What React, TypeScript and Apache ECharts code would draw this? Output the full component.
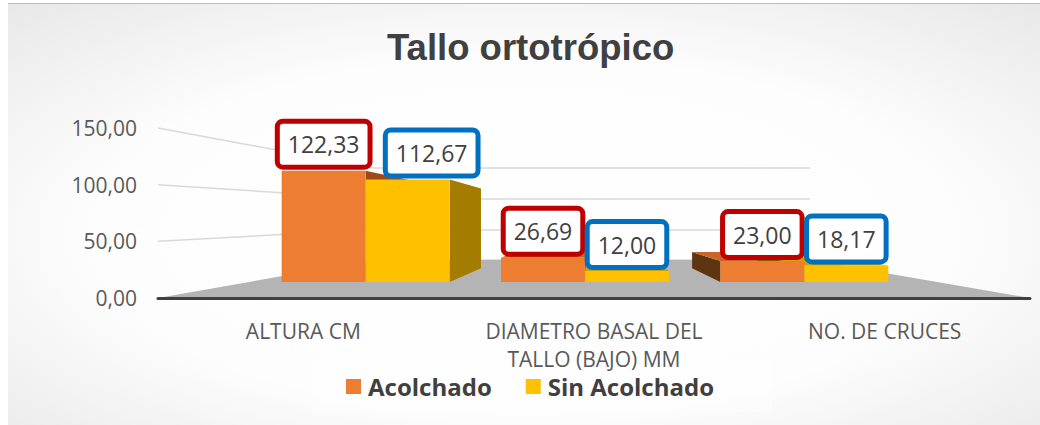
import React, { useEffect, useRef } from "react";
import * as echarts from "echarts";

const categories = ["ALTURA CM", "DIAMETRO BASAL DEL\nTALLO (BAJO) MM", "NO. DE CRUCES"];
const acolchado = [122.33, 26.69, 23.0];
const sinAcolchado = [112.67, 12.0, 18.17];
const seriesNames = ["Acolchado", "Sin Acolchado"];
const yTicks = [0, 50, 100, 150];

const fmt = (v: number) => v.toFixed(2).replace(".", ",");

// layout (page coords -> chart coords)
const OX = 8, OY = 4, W = 1032, H = 421;
const px = (x: number) => x - OX;
const py = (y: number) => y - OY;
const BAR_W = 84;
const VP = [px(592), py(220)];
const K = 0.78;

const FRONT = ["#ED7D31", "#FFC000"];
const SIDE_R = ["#9C4A17", "#A47C00"];
const SIDE_L = ["#5F3411", "#7F6000"];
const TOP = ["#C9652A", "#D4A000"];
const BORDER = ["#C00000", "#0070C0"];

const G0 = { left: px(158), right: W - px(1030), top: py(128), bottom: H - py(298) };
const G1 = { left: px(256), right: W - (px(256) + 658), top: py(145.5), bottom: H - py(282) };
const G2 = { left: px(374), right: W - px(810), top: py(168), bottom: H - py(260) };

function faces(s: number) {
  return (_params: any, api: any) => {
    const i = api.value(0);
    const v = api.value(1);
    const top = api.coord([i, v]);
    const base = api.coord([i, 0]);
    const x0 = top[0] + (s === 0 ? -BAR_W : 0);
    const x1 = x0 + BAR_W;
    const yT = top[1];
    const yB = base[1];
    const bx = (x: number) => VP[0] + (x - VP[0]) * K;
    const by = (y: number) => VP[1] + (y - VP[1]) * K;
    const children: any[] = [];
    if (x1 < VP[0]) {
      children.push({
        type: "polygon",
        shape: { points: [[x1, yT], [bx(x1), by(yT)], [bx(x1), by(yB)], [x1, yB]] },
        style: { fill: SIDE_R[s] },
      });
    }
    if (x0 > VP[0]) {
      children.push({
        type: "polygon",
        shape: { points: [[x0, yT], [bx(x0), by(yT)], [bx(x0), by(yB)], [x0, yB]] },
        style: { fill: SIDE_L[s] },
      });
    }
    if (yT > VP[1]) {
      children.push({
        type: "polygon",
        shape: { points: [[x0, yT], [x1, yT], [bx(x1), by(yT)], [bx(x0), by(yT)]] },
        style: { fill: TOP[s] },
      });
    }
    return { type: "group", children };
  };
}

export default function App() {
  const ref = useRef<HTMLDivElement>(null);
  useEffect(() => {
    if (!ref.current) return;
    const chart = echarts.init(ref.current, null, { renderer: "svg" });
    const values = [acolchado, sinAcolchado];
    const labelOffsets = [[[0, 0], [0, 0], [0, 0]], [[24, 0], [0, 0], [0, 0]]];
    chart.setOption({
      animation: false,
      backgroundColor: new echarts.graphic.RadialGradient(0.5, 0.55, 1.4, [
        { offset: 0, color: "#ffffff" },
        { offset: 0.3, color: "#fdfdfd" },
        { offset: 1, color: "#bdbdbd" },
      ]),
      title: {
        text: "Tallo ortotrópico",
        left: 374,
        top: 20,
        textStyle: { fontFamily: "Liberation Sans, Arial, sans-serif", fontWeight: "bold", fontSize: 36.5, color: "#404040" },
      },
      legend: {
        data: seriesNames,
        left: px(346),
        top: py(385.5) - 11,
        padding: 0,
        itemWidth: 15,
        itemHeight: 15,
        itemGap: 34,
        icon: "rect",
        textStyle: { fontFamily: "Open Sans", fontWeight: "bold", fontSize: 24, color: "#404040", lineHeight: 22, padding: [0, 0, 0, 2] },
      },
      grid: [
        { ...G0, containLabel: false },
        { ...G1, containLabel: false },
        { ...G2, containLabel: false },
      ],
      xAxis: [
        {
          type: "category",
          gridIndex: 0,
          data: categories,
          z: 5,
          axisLine: { show: true, lineStyle: { color: "#404040", width: 3 } },
          axisTick: { show: false },
          axisLabel: { fontFamily: "Open Sans", fontSize: 21, color: "#595959", margin: 19, lineHeight: 28 },
        },
        { type: "category", gridIndex: 1, data: categories, show: false },
        { type: "category", gridIndex: 2, data: categories, show: false },
      ],
      yAxis: [
        {
          type: "value",
          gridIndex: 0,
          min: 0,
          max: 150,
          interval: 50,
          axisLine: { show: false },
          axisTick: { show: false },
          splitLine: { show: false },
          axisLabel: { fontFamily: "Open Sans", fontSize: 21, color: "#595959", margin: 21, formatter: fmt, padding: [6, 0, 0, 0] },
        },
        { type: "value", gridIndex: 1, min: 0, max: 150, interval: 50, show: false },
        {
          type: "value",
          gridIndex: 2,
          min: 0,
          max: 150,
          interval: 50,
          axisLine: { show: false },
          axisTick: { show: false },
          axisLabel: { show: false },
          splitLine: { show: true, lineStyle: { color: "#d9d9d9", width: 1.5 } },
        },
      ],
      series: [
        ...values.map((vals, s) => ({
          name: seriesNames[s] + " 3D",
          type: "custom",
          xAxisIndex: 1,
          yAxisIndex: 1,
          z: 2,
          silent: true,
          renderItem: faces(s),
          data: vals.map((v, i) => [i, v]),
        })),
        ...values.map((vals, s) => ({
          name: seriesNames[s],
          type: "bar",
          xAxisIndex: 1,
          yAxisIndex: 1,
          z: 3,
          barWidth: BAR_W,
          barGap: "0%",
          itemStyle: { color: FRONT[s] },
          data: vals.map((v, i) => ({ value: v, label: { offset: labelOffsets[s][i] } })),
          label: {
            show: true,
            position: "top",
            distance: 6,
            formatter: (p: any) => fmt(p.value),
            fontFamily: "Open Sans",
            fontSize: 23,
            color: "#404040",
            lineHeight: 31,
            backgroundColor: "#ffffff",
            borderColor: BORDER[s],
            borderWidth: 5,
            borderRadius: 3,
            padding: [5, 8, 5, 8],
          },
        })),
      ],
    });

    // 3D walls and floor derived from the axes
    const y0 = (v: number) => chart.convertToPixel({ yAxisIndex: 0 } as any, v) as number;
    const y2 = (v: number) => chart.convertToPixel({ yAxisIndex: 2 } as any, v) as number;
    const frontL = G0.left, frontR = W - G0.right;
    const backL = G2.left, backR = W - G2.right;
    const wallLines = yTicks.slice(1).map((v) => ({
      type: "line",
      z: 0,
      silent: true,
      shape: { x1: frontL, y1: y0(v), x2: backL, y2: y2(v) },
      style: { stroke: "#d9d9d9", lineWidth: 1.5 },
    }));
    chart.setOption({
      graphic: [
        ...wallLines,
        {
          type: "polygon",
          z: 1,
          silent: true,
          shape: { points: [[frontL, y0(0)], [frontR, y0(0)], [backR, y2(0)], [backL, y2(0)]] },
          style: { fill: "#b4b4b4" },
        },
        {
          type: "rect",
          z: 1,
          silent: true,
          shape: { x: px(312), y: py(360), width: 460, height: 52 },
          style: { fill: "rgba(255,255,255,0.4)" },
        },
      ],
    });
    return () => chart.dispose();
  }, []);
  return (
    <div style={{ position: "absolute", left: OX, top: OY - 1, width: W, height: H + 1, borderTop: "1px solid #bcbcbc", boxSizing: "border-box" }}>
      <div ref={ref} style={{ width: W, height: H }} />
    </div>
  );
}
